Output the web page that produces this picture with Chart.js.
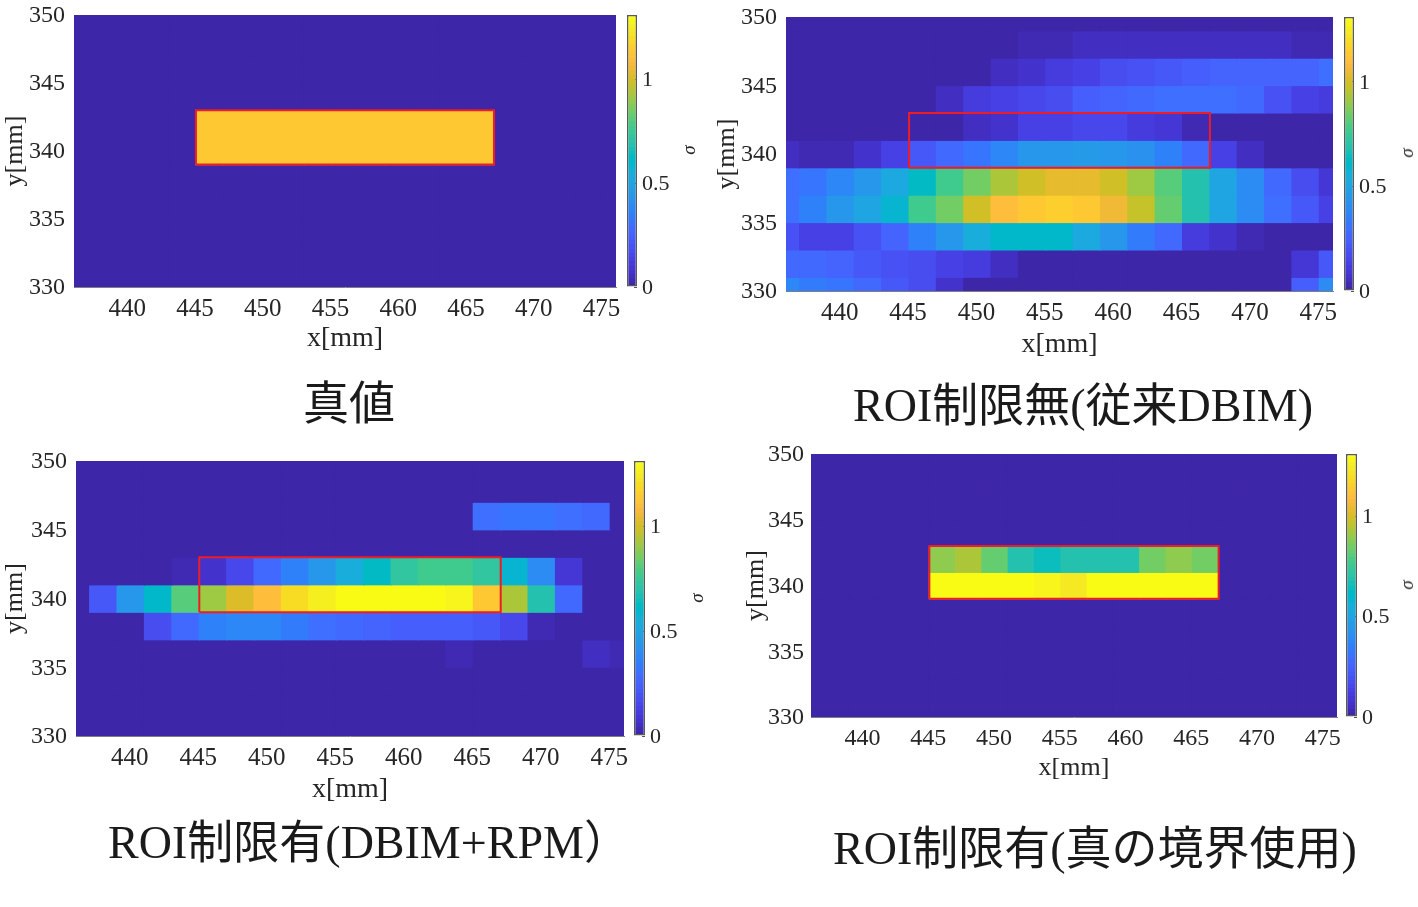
<!DOCTYPE html>
<html lang="ja">
<head>
<meta charset="utf-8">
<title>ROI</title>
<script src="https://cdn.jsdelivr.net/npm/chart.js@4"></script>
<style>
    body { margin: 0; background: #fff; }
    canvas { position: absolute; }
    .caption {
        position: absolute;
        font-family: "Liberation Serif", "Noto Sans CJK JP", serif;
        color: #1a1a1a;
        white-space: nowrap;
        transform: translate(-50%, -50%);
    }
    .sigma {
        position: absolute;
        font: italic 19px "Liberation Serif", serif;
        color: #262626;
        transform: translate(-50%, -50%) rotate(-90deg);
    }
</style>
</head>
<body>
<script>
// cell centres of the reconstruction grid, in mm
const xCenters = [436, 438, 440, 442, 444, 446, 448, 450, 452, 454, 456, 458, 460, 462, 464, 466, 468, 470, 472, 474, 476];
const yCenters = [350, 348, 346, 344, 342, 340, 338, 336, 334, 332, 330];

const xTickValues = [440, 445, 450, 455, 460, 465, 470, 475];
const yTickValues = [330, 335, 340, 345, 350];
const sigmaTickValues = [0, 0.5, 1];
const sigmaMax = 1.31;

// red ROI outline
const roiX = [445, 467, 467, 445, 445];
const roiY = [339, 339, 343, 343, 339];

// sigma per cell, top row first
const truthValues = [
    [0,0,0,0,0,0,0,0,0,0,0,0,0,0,0,0,0,0,0,0,0],
    [0,0,0,0,0,0,0,0,0,0,0,0,0,0,0,0,0,0,0,0,0],
    [0,0,0,0,0,0,0,0,0,0,0,0,0,0,0,0,0,0,0,0,0],
    [0,0,0,0,0,0,0,0,0,0,0,0,0,0,0,0,0,0,0,0,0],
    [0,0,0,0,0,1.13,1.13,1.13,1.13,1.13,1.13,1.13,1.13,1.13,1.13,1.13,0,0,0,0,0],
    [0,0,0,0,0,1.13,1.13,1.13,1.13,1.13,1.13,1.13,1.13,1.13,1.13,1.13,0,0,0,0,0],
    [0,0,0,0,0,0,0,0,0,0,0,0,0,0,0,0,0,0,0,0,0],
    [0,0,0,0,0,0,0,0,0,0,0,0,0,0,0,0,0,0,0,0,0],
    [0,0,0,0,0,0,0,0,0,0,0,0,0,0,0,0,0,0,0,0,0],
    [0,0,0,0,0,0,0,0,0,0,0,0,0,0,0,0,0,0,0,0,0],
    [0,0,0,0,0,0,0,0,0,0,0,0,0,0,0,0,0,0,0,0,0]
];

const noRoiValues = [
    [0,0,0,0,0,0,0,0,0,0.01,0.01,0.01,0.01,0.01,0.01,0.01,0.01,0.01,0.01,0.01,0.01],
    [0,0,0,0,0,0,0,0,0,0.03,0.03,0.06,0.06,0.06,0.06,0.06,0.06,0.06,0.06,0.03,0.03],
    [0,0,0,0,0,0,0,0,0.06,0.07,0.11,0.13,0.17,0.19,0.21,0.23,0.25,0.26,0.26,0.26,0.29],
    [0,0,0,0,0,0,0.05,0.11,0.14,0.16,0.18,0.24,0.26,0.27,0.29,0.29,0.29,0.27,0.2,0.14,0.11],
    [0,0,0,0,0,0,0,0.05,0.07,0.13,0.13,0.15,0.15,0.11,0.09,0.03,0,0,0,0,0],
    [0.05,0.03,0.03,0.07,0.13,0.22,0.27,0.32,0.37,0.45,0.45,0.47,0.45,0.41,0.36,0.27,0.13,0.06,0.01,0.01,0.01],
    [0.3,0.32,0.38,0.45,0.52,0.62,0.77,0.85,0.93,1,1.04,1.04,1,0.91,0.81,0.69,0.51,0.4,0.27,0.17,0.09],
    [0.3,0.36,0.44,0.51,0.59,0.77,0.85,1,1.09,1.14,1.155,1.14,1.06,0.97,0.83,0.69,0.51,0.4,0.3,0.21,0.13],
    [0.19,0.14,0.14,0.2,0.26,0.36,0.45,0.54,0.6,0.61,0.6,0.53,0.45,0.34,0.27,0.12,0.08,0.04,0,0,0],
    [0.27,0.27,0.25,0.22,0.2,0.17,0.13,0.11,0.05,0,0,0,0,0,0,0,0,0,0,0.1,0.22],
    [0.37,0.34,0.31,0.27,0.21,0.17,0.08,0,0,0,0,0,0,0,0,0,0,0,0,0.24,0.39]
];

const rpmValues = [
    [0,0,0,0,0,0,0,0,0,0,0,0,0,0,0,0,0,0,0,0,0],
    [0,0,0,0,0,0,0,0,0,0,0,0,0,0,0,0,0,0,0,0,0],
    [0,0,0,0,0,0,0,0,0,0,0,0,0,0,0,0.29,0.31,0.31,0.29,0.27,0],
    [0,0,0,0,0,0,0,0,0,0,0,0,0,0,0,0,0,0,0,0,0],
    [0,0,0,0,0.03,0.08,0.15,0.27,0.36,0.45,0.54,0.62,0.72,0.77,0.77,0.72,0.59,0.4,0.1,0,0],
    [0,0.22,0.43,0.6,0.8,0.91,1.02,1.1,1.2,1.26,1.31,1.31,1.31,1.31,1.28,1.14,0.93,0.69,0.28,0,0],
    [0,0,0,0.17,0.28,0.36,0.37,0.37,0.33,0.3,0.28,0.25,0.24,0.24,0.24,0.22,0.15,0.04,0,0,0],
    [0,0,0,0,0,0,0,0,0,0,0,0,0,0,0.04,0,0,0,0,0.05,0.04],
    [0,0,0,0,0,0,0,0,0,0,0,0,0,0,0,0,0,0,0,0,0],
    [0,0,0,0,0,0,0,0,0,0,0,0,0,0,0,0,0,0,0,0,0],
    [0,0,0,0,0,0,0,0,0,0,0,0,0,0,0,0,0,0,0,0,0]
];

const trueBoundaryValues = [
    [0,0,0,0,0,0,0,0,0,0,0,0,0,0,0,0,0,0,0,0,0],
    [0,0,0,0,0,0,0,0,0,0,0,0,0,0,0,0,0,0,0,0,0],
    [0,0,0,0,0,0,0,0,0,0,0,0,0,0,0,0,0,0,0,0,0],
    [0,0,0,0,0,0,0,0,0,0,0,0,0,0,0,0,0,0,0,0,0],
    [0,0,0,0,0,0.89,0.93,0.82,0.69,0.64,0.69,0.69,0.69,0.84,0.9,0.84,0,0,0,0,0],
    [0,0,0,0,0,1.31,1.31,1.31,1.31,1.27,1.24,1.31,1.31,1.31,1.31,1.31,0,0,0,0,0],
    [0,0,0,0,0,0,0,0,0,0,0,0,0,0,0,0,0,0,0,0,0],
    [0,0,0,0,0,0,0,0,0,0,0,0,0,0,0,0,0,0,0,0,0],
    [0,0,0,0,0,0,0,0,0,0,0,0,0,0,0,0,0,0,0,0,0],
    [0,0,0,0,0,0,0,0,0,0,0,0,0,0,0,0,0,0,0,0,0],
    [0,0,0,0,0,0,0,0,0,0,0,0,0,0,0,0,0,0,0,0,0]
];

// parula, 64 steps
const parula = [
    [0.2422,0.1504,0.6603],[0.2504,0.1650,0.7076],[0.2578,0.1818,0.7511],[0.2647,0.1978,0.7952],
    [0.2706,0.2147,0.8364],[0.2751,0.2342,0.8710],[0.2783,0.2559,0.8991],[0.2803,0.2782,0.9221],
    [0.2813,0.3006,0.9414],[0.2810,0.3228,0.9579],[0.2795,0.3447,0.9717],[0.2760,0.3667,0.9829],
    [0.2699,0.3892,0.9906],[0.2602,0.4123,0.9952],[0.2440,0.4358,0.9988],[0.2206,0.4603,0.9973],
    [0.1963,0.4847,0.9892],[0.1834,0.5074,0.9798],[0.1786,0.5289,0.9682],[0.1764,0.5499,0.9520],
    [0.1687,0.5703,0.9359],[0.1540,0.5902,0.9218],[0.1460,0.6091,0.9079],[0.1380,0.6276,0.8973],
    [0.1248,0.6459,0.8883],[0.1113,0.6635,0.8763],[0.0952,0.6798,0.8598],[0.0689,0.6948,0.8394],
    [0.0297,0.7082,0.8163],[0.0036,0.7203,0.7917],[0.0067,0.7312,0.7660],[0.0433,0.7411,0.7394],
    [0.0964,0.7500,0.7120],[0.1408,0.7584,0.6842],[0.1717,0.7670,0.6554],[0.1938,0.7758,0.6251],
    [0.2161,0.7843,0.5923],[0.2470,0.7918,0.5567],[0.2906,0.7973,0.5188],[0.3406,0.8008,0.4789],
    [0.3909,0.8029,0.4354],[0.4456,0.8024,0.3909],[0.5044,0.7993,0.3480],[0.5616,0.7942,0.3045],
    [0.6174,0.7876,0.2612],[0.6720,0.7793,0.2227],[0.7242,0.7698,0.1910],[0.7738,0.7598,0.1646],
    [0.8203,0.7498,0.1535],[0.8634,0.7406,0.1596],[0.9035,0.7330,0.1774],[0.9393,0.7288,0.2100],
    [0.9728,0.7298,0.2394],[0.9956,0.7434,0.2371],[0.9970,0.7659,0.2199],[0.9952,0.7861,0.1996],
    [0.9892,0.8082,0.1816],[0.9786,0.8386,0.1505],[0.9676,0.8639,0.1380],[0.9610,0.8890,0.1537],
    [0.9597,0.9135,0.1423],[0.9628,0.9373,0.1265],[0.9691,0.9606,0.1064],[0.9769,0.9839,0.0805]
];

const TICK_FONT = 'Liberation Serif';
const INK = '#262626';
const AXIS_GREY = '#7f7f7f';

function paruleCss(entry) {
    return `rgb(${entry.map(c => Math.round(c * 255)).join(',')})`;
}

function valueColor(v) {
    const index = Math.min(63, Math.floor(v / sigmaMax * 64));
    return paruleCss(parula[index]);
}

function fixedTicks(values) {
    return scale => { scale.ticks = values.map(value => ({ value })); };
}

function addCanvas(left, top, width, height) {
    const canvas = document.createElement('canvas');
    canvas.width = width;
    canvas.height = height;
    canvas.style.left = left + 'px';
    canvas.style.top = top + 'px';
    canvas.style.width = width + 'px';
    canvas.style.height = height + 'px';
    document.body.appendChild(canvas);
    return canvas.getContext('2d');
}

function addText(className, text, x, y, size) {
    const el = document.createElement('div');
    el.className = className;
    el.textContent = text;
    el.style.left = x + 'px';
    el.style.top = y + 'px';
    if (size) el.style.fontSize = size + 'px';
    document.body.appendChild(el);
}

// heat map: one floating-bar dataset per row, plus the ROI outline on top
function drawHeatmap(panel, values) {
    const pad = 34;
    const width = panel.right - panel.left;
    const height = panel.bottom - panel.top;
    const ctx = addCanvas(panel.left - panel.axisW - pad, panel.top - pad,
        panel.axisW + pad * 2 + width, pad + height + panel.axisH + pad);

    const datasets = yCenters.map((y, r) => ({
        type: 'bar',
        order: 1,
        grouped: false,
        barPercentage: 1,
        categoryPercentage: 1,
        borderWidth: 0,
        inflateAmount: 0.6,
        backgroundColor: values[r].map(valueColor),
        data: xCenters.map(x => ({ x: x, y: [y - 1, y + 1] }))
    }));
    datasets.unshift({
        type: 'line',
        order: 0,
        borderColor: '#ee1c25',
        borderWidth: 2,
        pointRadius: 0,
        tension: 0,
        clip: false,
        data: roiX.map((x, i) => ({ x: x, y: roiY[i] }))
    });

    new Chart(ctx, {
        data: { datasets: datasets },
        options: {
            responsive: false,
            animation: false,
            layout: { padding: pad },
            plugins: { legend: { display: false }, tooltip: { enabled: false } },
            scales: {
                x: {
                    type: 'linear',
                    offset: false,
                    min: 436,
                    max: 476,
                    z: 1,
                    afterBuildTicks: fixedTicks(xTickValues),
                    afterFit: scale => { scale.height = panel.axisH; },
                    grid: { drawOnChartArea: false, tickLength: -4, color: AXIS_GREY },
                    border: { color: AXIS_GREY },
                    ticks: { autoSkip: false, maxRotation: 0, padding: panel.xPad + 3, labelOffset: -1, color: INK,
                        font: { family: TICK_FONT, size: panel.tickSize } },
                    title: { display: true, text: 'x[mm]', color: INK, padding: 0,
                        font: { family: TICK_FONT, size: panel.titleSize } }
                },
                y: {
                    type: 'linear',
                    min: 330,
                    max: 350,
                    z: 1,
                    afterBuildTicks: fixedTicks(yTickValues),
                    afterFit: scale => { scale.width = panel.axisW; },
                    grid: { drawOnChartArea: false, tickLength: -4, color: AXIS_GREY },
                    border: { color: AXIS_GREY },
                    ticks: { autoSkip: false, padding: panel.yPad + 4, labelOffset: 1, color: INK,
                        font: { family: TICK_FONT, size: 24 } },
                    title: { display: true, text: 'y[mm]', color: INK, padding: 0,
                        font: { family: TICK_FONT, size: 26 } }
                }
            }
        }
    });
}

function barGradient(context) {
    const area = context.chart.chartArea;
    if (!area) return null;
    const g = context.chart.ctx.createLinearGradient(0, area.bottom, 0, area.top);
    parula.forEach((entry, i) => {
        g.addColorStop(i / 64, paruleCss(entry));
        g.addColorStop((i + 1) / 64, paruleCss(entry));
    });
    return g;
}

function drawColorbar(panel) {
    const pad = 32;
    const barW = panel.barRight - panel.barLeft;
    const barH = panel.bottom - panel.top;
    const ctx = addCanvas(panel.barLeft, panel.top - pad, barW + 44, barH + pad * 2);
    new Chart(ctx, {
        type: 'bar',
        data: {
            labels: ['sigma'],
            datasets: [{
                data: [[0, sigmaMax]],
                backgroundColor: barGradient,
                borderColor: '#5a5a5a',
                borderWidth: 1.5,
                borderSkipped: false,
                barPercentage: 1,
                categoryPercentage: 1,
                inflateAmount: 0
            }]
        },
        options: {
            responsive: false,
            animation: false,
            layout: { padding: { top: pad, bottom: pad, left: 0, right: 0 } },
            plugins: { legend: { display: false }, tooltip: { enabled: false } },
            scales: {
                x: { display: false },
                y: {
                    position: 'right',
                    min: 0,
                    max: sigmaMax,
                    z: 1,
                    afterBuildTicks: fixedTicks(sigmaTickValues),
                    afterFit: scale => { scale.width = 44; },
                    grid: { drawOnChartArea: false, tickLength: -3, color: '#555' },
                    border: { display: false },
                    ticks: { padding: 8, labelOffset: 1, color: INK, font: { family: TICK_FONT, size: 22 },
                        callback: value => String(value) }
                }
            }
        }
    });
}

// pixel layout of the four panels
const panels = [
    { values: truthValues, left: 74, right: 616, top: 15, bottom: 287, barLeft: 627, barRight: 637, axisW: 74, axisH: 68,
      tickSize: 25, titleSize: 28, xPad: 8, yPad: 9, sigmaX: 689, sigmaY: 150,
      caption: '真値', capX: 349, capY: 399, capSize: 46 },
    { values: noRoiValues, left: 786, right: 1333, top: 17, bottom: 291, barLeft: 1344, barRight: 1354, axisW: 74, axisH: 70,
      tickSize: 25, titleSize: 28, xPad: 8, yPad: 9, sigmaX: 1407, sigmaY: 153,
      caption: 'ROI制限無(従来DBIM)', capX: 1083, capY: 401, capSize: 46 },
    { values: rpmValues, left: 76, right: 624, top: 461, bottom: 736, barLeft: 634, barRight: 645, axisW: 76, axisH: 70,
      tickSize: 25, titleSize: 28, xPad: 8, yPad: 9, sigmaX: 697, sigmaY: 598,
      caption: 'ROI制限有(DBIM+RPM）', capX: 369, capY: 838, capSize: 46 },
    { values: trueBoundaryValues, left: 811, right: 1337, top: 454, bottom: 717, barLeft: 1346, barRight: 1357, axisW: 70, axisH: 67,
      tickSize: 24, titleSize: 26, xPad: 8, yPad: 7, sigmaX: 1407, sigmaY: 585,
      caption: 'ROI制限有(真の境界使用)', capX: 1095, capY: 844, capSize: 46 }
];

panels.forEach(panel => {
    drawHeatmap(panel, panel.values);
    drawColorbar(panel);
    addText('sigma', 'σ', panel.sigmaX, panel.sigmaY);
    addText('caption', panel.caption, panel.capX, panel.capY, panel.capSize);
});
</script>
</body>
</html>
